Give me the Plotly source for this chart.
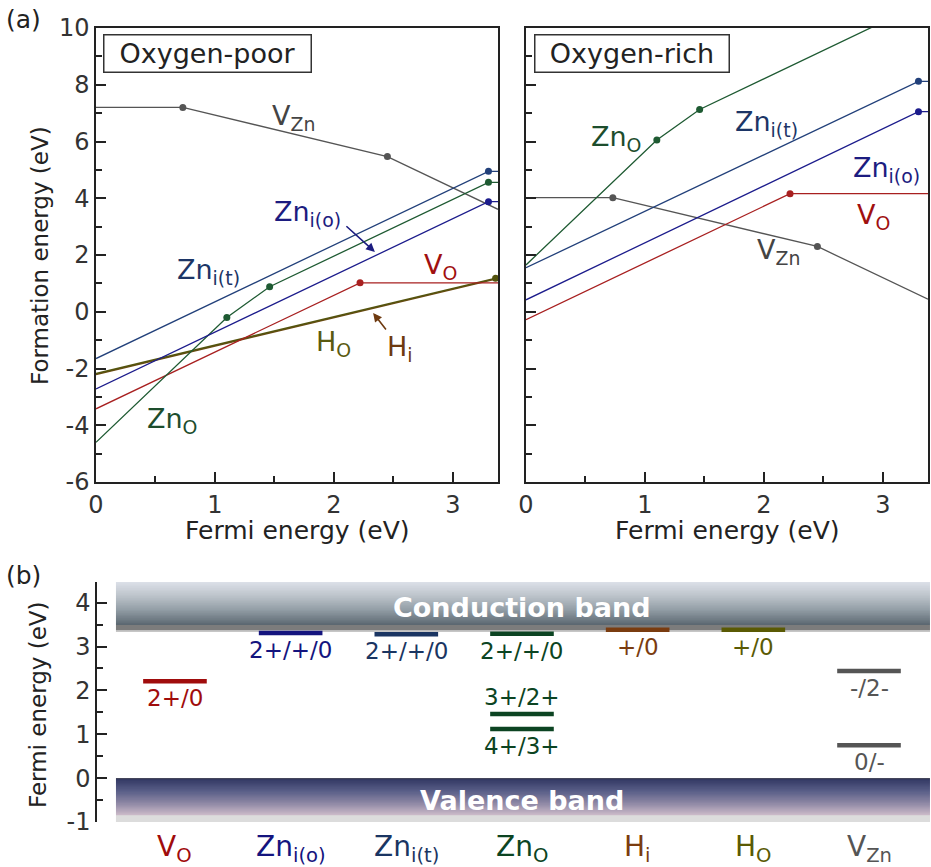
import plotly.graph_objects as go

W, H = 931, 867
FONT = "DejaVu Sans"

# ---------------- Panel (a) data: breakpoints (Fermi energy, formation energy) ----------------
E_MAX = 3.38

poor_VZn_x = [0, 0.73, 2.45, 3.38]
poor_VZn_y = [7.20, 7.20, 5.47, 3.61]
poor_ZniT_x = [0, 3.30, 3.38]
poor_ZniT_y = [-1.65, 4.95, 4.95]
poor_ZniO_x = [0, 3.30, 3.38]
poor_ZniO_y = [-2.72, 3.88, 3.88]
poor_ZnO_x = [0, 1.10, 1.46, 3.30, 3.38]
poor_ZnO_y = [-4.60, -0.20, 0.88, 4.56, 4.56]
poor_VO_x = [0, 2.22, 3.38]
poor_VO_y = [-3.42, 1.02, 1.02]
poor_HO_x = [0, 3.36, 3.38]
poor_HO_y = [-2.18, 1.18, 1.20]
poor_Hi_x = [0, 3.38]
poor_Hi_y = [-2.21, 1.17]

rich_VZn_x = [0, 0.73, 2.45, 3.38]
rich_VZn_y = [4.02, 4.02, 2.30, 0.44]
rich_ZniT_x = [0, 3.30, 3.38]
rich_ZniT_y = [1.55, 8.12, 8.12]
rich_ZniO_x = [0, 3.30, 3.38]
rich_ZniO_y = [0.42, 7.05, 7.05]
rich_ZnO_x = [0, 1.10, 1.46, 3.30, 3.38]
rich_ZnO_y = [1.65, 6.05, 7.13, 10.81, 10.81]
rich_VO_x = [0, 2.22, 3.38]
rich_VO_y = [-0.28, 4.16, 4.16]

fe_ticks = [-6, -4, -2, 0, 2, 4, 6, 8, 10]
fe_ticktext = ["-6", "-4", "-2", "0", "2", "4", "6", "8", "10"]
ef_ticks = [0, 1, 2, 3]
ef_ticktext = ["0", "1", "2", "3"]

# ---------------- Panel (b) data: transition levels ----------------
defects = ["V<sub>O</sub>", "Zn<sub>i(o)</sub>", "Zn<sub>i(t)</sub>", "Zn<sub>O</sub>",
           "H<sub>i</sub>", "H<sub>O</sub>", "V<sub>Zn</sub>"]
level_defect = [0, 1, 2, 3, 3, 3, 4, 5, 6, 6]
level_energy = [2.21, 3.31, 3.28, 3.29, 1.46, 1.12, 3.38, 3.38, 2.44, 0.75]
level_label = ["2+/0", "2+/+/0", "2+/+/0", "2+/+/0", "3+/2+", "4+/3+", "+/0", "+/0", "-/2-", "0/-"]
level_label_above = [False, False, False, False, True, False, False, False, False, False]
conduction_min = 3.33
valence_max = 0.0
b_ticks = [-1, 0, 1, 2, 3, 4]
b_ticktext = ["-1", "0", "1", "2", "3", "4"]

# ---------------- styles ----------------
c_VZn, c_ZniT, c_ZniO, c_ZnO = "#555555", "#22407a", "#1c1c8c", "#1e5a32"
c_VO, c_HO, c_Hi = "#a82020", "#54540e", "#6e4a14"
defect_colors = ["#a00c0c", "#14147e", "#1a3562", "#0c4422", "#7a3c10", "#5a5a04", "#555555"]

fig = go.Figure()


def add_line(xs, ys, color, xa, ya, width=1.3):
    fig.add_trace(go.Scatter(x=xs, y=ys, mode="lines", line=dict(color=color, width=width),
                             xaxis=xa, yaxis=ya, hoverinfo="skip", showlegend=False))
    marker_idx = list(range(1, len(xs) - 1))
    if marker_idx:
        fig.add_trace(go.Scatter(x=[xs[i] for i in marker_idx], y=[ys[i] for i in marker_idx],
                                 mode="markers", marker=dict(color=color, size=7),
                                 xaxis=xa, yaxis=ya, hoverinfo="skip", showlegend=False))


# Oxygen-poor
add_line(poor_VZn_x, poor_VZn_y, c_VZn, "x", "y")
add_line(poor_Hi_x, poor_Hi_y, c_Hi, "x", "y", 1.6)
add_line(poor_HO_x, poor_HO_y, c_HO, "x", "y", 1.6)
add_line(poor_VO_x, poor_VO_y, c_VO, "x", "y")
add_line(poor_ZnO_x, poor_ZnO_y, c_ZnO, "x", "y")
add_line(poor_ZniO_x, poor_ZniO_y, c_ZniO, "x", "y")
add_line(poor_ZniT_x, poor_ZniT_y, c_ZniT, "x", "y")
# Oxygen-rich
add_line(rich_VZn_x, rich_VZn_y, c_VZn, "x2", "y2")
add_line(rich_VO_x, rich_VO_y, c_VO, "x2", "y2")
add_line(rich_ZnO_x, rich_ZnO_y, c_ZnO, "x2", "y2")
add_line(rich_ZniO_x, rich_ZniO_y, c_ZniO, "x2", "y2")
add_line(rich_ZniT_x, rich_ZniT_y, c_ZniT, "x2", "y2")


# ---------------- Panel (b) bands (gradients) ----------------
def hex2rgb(h):
    h = h.lstrip("#")
    return tuple(int(h[i:i + 2], 16) for i in (0, 2, 4))


def interp(stops, y):
    for (y0, c0), (y1, c1) in zip(stops[:-1], stops[1:]):
        if y1 <= y <= y0:
            t = 0 if y0 == y1 else (y0 - y) / (y0 - y1)
            a, b = hex2rgb(c0), hex2rgb(c1)
            return "rgb(%d,%d,%d)" % tuple(round(a[k] + (b[k] - a[k]) * t) for k in range(3))
    return stops[-1][1]


def add_band(y_top, y_bot, stops, n=60):
    edges = [y_top - (y_top - y_bot) * k / n for k in range(n + 1)]
    centers = [(edges[k] + edges[k + 1]) / 2 for k in range(n)]
    cols = [interp(stops, c) for c in centers]
    ys = edges[::-1]
    cols = cols[::-1]
    z = [[k] for k in range(n)]
    cs = [[k / (n - 1), cols[k]] for k in range(n)]
    fig.add_trace(go.Heatmap(x=[-0.51, 6.53], y=ys, z=z, colorscale=cs, showscale=False,
                             xaxis="x3", yaxis="y3", hoverinfo="skip"))


cb_top = 4.47
add_band(cb_top, conduction_min,
         [(4.47, "#dce0e8"), (4.15, "#bcc3ca"), (3.85, "#949fa7"), (3.56, "#66727b"),
          (3.50, "#5a6670"), (3.495, "#7c7c7c"), (3.37, "#7c7c7c"), (3.365, "#c6c6c6"),
          (3.33, "#c6c6c6")], n=80)
add_band(valence_max, -1.0,
         [(0.0, "#2a2c40"), (-0.04, "#353b66"), (-0.3, "#5a5f88"), (-0.55, "#8a84a2"),
          (-0.84, "#cbbac8"), (-0.845, "#dcdcdc"), (-1.0, "#dcdcdc")], n=80)

# level bars
for d, e in zip(level_defect, level_energy):
    fig.add_trace(go.Scatter(x=[d - 0.275, d + 0.275], y=[e, e], mode="lines",
                             line=dict(color=defect_colors[d], width=4.5),
                             xaxis="x3", yaxis="y3", hoverinfo="skip", showlegend=False))

annotations = []
for d, e, lab_, above in zip(level_defect, level_energy, level_label, level_label_above):
    annotations.append(dict(x=d, y=e, xref="x3", yref="y3", text=lab_, showarrow=False,
                            yshift=17 if above else -17, xanchor="center", yanchor="middle",
                            font=dict(family=FONT, size=23, color=defect_colors[d])))
for i, name in enumerate(defects):
    annotations.append(dict(x=i, y=1 - 848 / H, xref="x3", yref="paper", text=name,
                            showarrow=False, xanchor="center", yanchor="middle",
                            font=dict(family=FONT, size=28, color=defect_colors[i])))
annotations += [
    dict(x=3.0, y=3.90, xref="x3", yref="y3", text="<b>Conduction band</b>", showarrow=False,
         xanchor="center", yanchor="middle", font=dict(family=FONT, size=27, color="white")),
    dict(x=3.0, y=-0.50, xref="x3", yref="y3", text="<b>Valence band</b>", showarrow=False,
         xanchor="center", yanchor="middle", font=dict(family=FONT, size=27, color="white")),
]


# ---------------- Panel (a) labels ----------------
def lab(x, y, text, color, xr="x", yr="y", size=27):
    annotations.append(dict(x=x, y=y, xref=xr, yref=yr, text=text, showarrow=False,
                            xanchor="center", yanchor="middle",
                            font=dict(family=FONT, size=size, color=color)))


lab(1.66, 6.85, "V<sub>Zn</sub>", "#444444")
lab(1.78, 3.45, "Zn<sub>i(o)</sub>", "#1c1c80")
lab(0.95, 1.42, "Zn<sub>i(t)</sub>", "#1c3566")
lab(2.90, 1.60, "V<sub>O</sub>", "#a01010")
lab(2.00, -1.12, "H<sub>O</sub>", "#5a5a10")
lab(2.56, -1.28, "H<sub>i</sub>", "#6e3a10")
lab(0.64, -3.82, "Zn<sub>O</sub>", "#1d4d2d")

lab(0.76, 6.10, "Zn<sub>O</sub>", "#1d4d2d", "x2", "y2")
lab(2.02, 6.62, "Zn<sub>i(t)</sub>", "#1c3566", "x2", "y2")
lab(3.03, 5.02, "Zn<sub>i(o)</sub>", "#1c1c80", "x2", "y2")
lab(2.92, 3.36, "V<sub>O</sub>", "#a01010", "x2", "y2")
lab(2.12, 2.12, "V<sub>Zn</sub>", "#444444", "x2", "y2")

# arrows
annotations.append(dict(x=2.345, y=2.11, xref="x", yref="y", ax=-30, ay=-27, text="",
                        showarrow=True, arrowhead=2, arrowsize=1.1, arrowwidth=1.6,
                        arrowcolor="#1c1c80"))
annotations.append(dict(x=2.33, y=-0.04, xref="x", yref="y", ax=14, ay=18, text="",
                        showarrow=True, arrowhead=2, arrowsize=1.1, arrowwidth=1.6,
                        arrowcolor="#6e3a10"))

# condition boxes
for x0, text, bw in [(103, "Oxygen-poor", 209), (534, "Oxygen-rich", 196)]:
    annotations.append(dict(x=x0 / W, y=1 - 34 / H, xref="paper", yref="paper",
                            xanchor="left", yanchor="top", text=text, showarrow=False,
                            width=bw - 5, height=34,
                            bordercolor="#333333", borderwidth=1.5, borderpad=1,
                            bgcolor="white", font=dict(family=FONT, size=27, color="#222222")))

# axis titles and panel letters
annotations += [
    dict(x=297 / W, y=1 - 530 / H, xref="paper", yref="paper", text="Fermi energy (eV)",
         xanchor="center", yanchor="middle",
         showarrow=False, font=dict(family=FONT, size=25, color="#222222")),
    dict(x=727 / W, y=1 - 530 / H, xref="paper", yref="paper", text="Fermi energy (eV)",
         xanchor="center", yanchor="middle",
         showarrow=False, font=dict(family=FONT, size=25, color="#222222")),
    dict(x=40 / W, y=1 - 256 / H, xref="paper", yref="paper", text="Formation energy (eV)",
         xanchor="center", yanchor="middle",
         textangle=-90, showarrow=False, font=dict(family=FONT, size=23, color="#222222")),
    dict(x=38 / W, y=1 - 705 / H, xref="paper", yref="paper", text="Fermi energy (eV)",
         xanchor="center", yanchor="middle",
         textangle=-90, showarrow=False, font=dict(family=FONT, size=23, color="#222222")),
    dict(x=23 / W, y=1 - 19 / H, xref="paper", yref="paper", text="(a)",
         xanchor="center", yanchor="middle",
         showarrow=False, font=dict(family=FONT, size=25, color="#222222")),
    dict(x=23 / W, y=1 - 575 / H, xref="paper", yref="paper", text="(b)",
         xanchor="center", yanchor="middle",
         showarrow=False, font=dict(family=FONT, size=25, color="#222222")),
]

tickfont = dict(family=FONT, size=24, color="#333333")
common_x = dict(range=[0, E_MAX], tickmode="array", tickvals=ef_ticks, ticktext=ef_ticktext,
                ticks="inside", ticklen=10, tickwidth=1.5, automargin=False,
                tickcolor="#222222", showline=True, linewidth=1.5, linecolor="#222222",
                mirror=True, showgrid=False, zeroline=False, tickfont=tickfont,
                minor=dict(dtick=0.5, tick0=0, ticks="inside", ticklen=6, tickwidth=1.5,
                           tickcolor="#222222"))
common_y = dict(range=[-6, 10], tickmode="array", tickvals=fe_ticks, ticktext=fe_ticktext,
                ticks="inside", ticklen=10, tickwidth=1.5, automargin=False,
                tickcolor="#222222", showline=True, linewidth=1.5, linecolor="#222222",
                mirror=True, showgrid=False, zeroline=False, tickfont=tickfont,
                minor=dict(dtick=1, tick0=0, ticks="inside", ticklen=6, tickwidth=1.5,
                           tickcolor="#222222"))

fig.update_layout(
    width=W, height=H, margin=dict(l=0, r=0, t=0, b=0, pad=0, autoexpand=False),
    paper_bgcolor="white", plot_bgcolor="white", showlegend=False,
    xaxis=dict(domain=[96 / W, 498 / W], anchor="y", **common_x),
    yaxis=dict(domain=[1 - 482 / H, 1 - 28 / H], anchor="x", **common_y),
    xaxis2=dict(domain=[526 / W, 928 / W], anchor="y2", **common_x),
    yaxis2=dict(domain=[1 - 482 / H, 1 - 28 / H], anchor="x2", showticklabels=False,
                **common_y),
    xaxis3=dict(domain=[97 / W, 1.0], anchor="y3", range=[-0.674, 6.536], visible=False,
                automargin=False),
    yaxis3=dict(domain=[1 - 822 / H, 1 - 582 / H], anchor="x3", range=[-1, cb_top],
                tickmode="array", tickvals=b_ticks, ticktext=b_ticktext, automargin=False,
                ticks="inside", ticklen=10, tickwidth=1.5,
                tickcolor="#222222", showline=True, linewidth=1.5, linecolor="#222222",
                showgrid=False, zeroline=False, tickfont=tickfont,
                minor=dict(dtick=0.5, tick0=0, ticks="inside", ticklen=6, tickwidth=1.5,
                           tickcolor="#222222")),
    annotations=annotations,
)

fig.write_html("out.html")
